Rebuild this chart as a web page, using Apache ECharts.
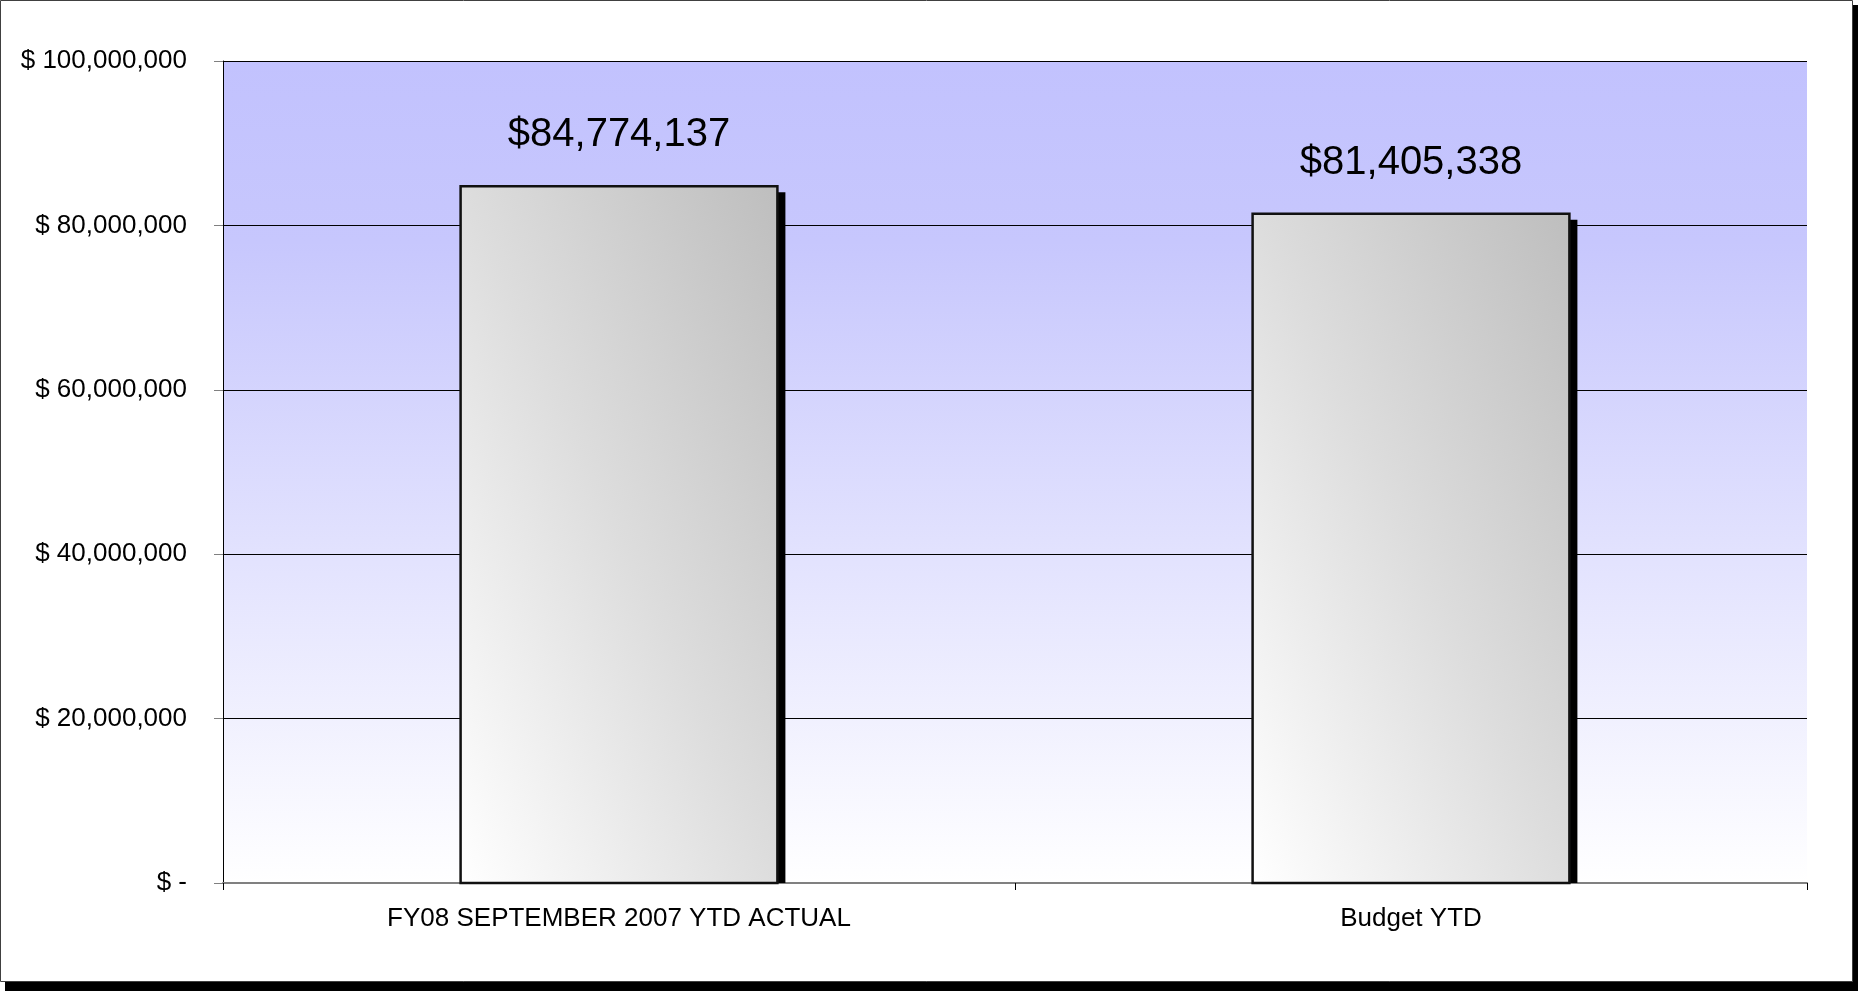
<!DOCTYPE html>
<html>
<head>
<meta charset="utf-8">
<script src="https://cdn.jsdelivr.net/npm/echarts@6/dist/echarts.min.js"></script>
<style>
  html, body { margin: 0; padding: 0; background: #fff; }
  #chart { width: 1858px; height: 991px; }
</style>
</head>
<body>
<div id="chart"></div>
<script>
// chart data
var categories = ['FY08 SEPTEMBER 2007 YTD ACTUAL', 'Budget YTD'];
var amounts = [84774137, 81405338];
var yMin = 0, yMax = 100000000, yStep = 20000000;

function money(v) {
  if (v === 0) return '$ -';
  return '$ ' + v.toLocaleString('en-US');
}

var plotFill = new echarts.graphic.LinearGradient(0, 0, 0, 1, [
  { offset: 0, color: '#c2c2fe' },
  { offset: 0.22, color: '#c7c7fd' },
  { offset: 1, color: '#ffffff' }
]);

// bar with a hard drop shadow, drawn from the axis scales
function renderBar(params, api) {
  var top = api.coord([api.value(0), api.value(1)]);
  var base = api.coord([api.value(0), 0]);
  var w = api.size([1, 0])[0] * 0.4;
  var x = top[0] - w / 2;
  var h = base[1] - top[1];
  // gradient runs bottom-left -> top-right, with even tone along the other diagonal
  var cx = x + w / 2, cy = top[1] + h / 2;
  var len = Math.sqrt(w * w + h * h);
  var dx = h / len, dy = -w / len;
  var half = (w * h) / len;
  var fill = new echarts.graphic.LinearGradient(
    cx - dx * half, cy - dy * half, cx + dx * half, cy + dy * half, [
    { offset: 0, color: '#ffffff' },
    { offset: 0.5, color: '#dddddd' },
    { offset: 1, color: '#bebebe' }
  ], true);
  return {
    type: 'group',
    children: [
      { type: 'rect', shape: { x: x + 8, y: top[1] + 6, width: w, height: h - 6 }, style: { fill: '#000' } },
      { type: 'rect', shape: { x: x, y: top[1], width: w, height: h }, style: { fill: fill, stroke: '#111', lineWidth: 2.5 } },
      { type: 'text', x: top[0], y: top[1] - 31, style: {
          text: '$' + api.value(1).toLocaleString('en-US'),
          fill: '#000', fontSize: 40, fontFamily: '"Liberation Sans", Arial, sans-serif',
          align: 'center', verticalAlign: 'bottom'
      } }
    ]
  };
}

var myChart = echarts.init(document.getElementById('chart'));
myChart.setOption({
  animation: false,
  textStyle: { fontFamily: '"Liberation Sans", Arial, sans-serif' },
  graphic: [
    { type: 'rect', z: -10, shape: { x: 5, y: 5, width: 1853, height: 986 }, style: { fill: '#000' } },
    { type: 'rect', z: -9, shape: { x: 0.5, y: 0.5, width: 1852, height: 981 }, style: { fill: '#fff', stroke: '#404040', lineWidth: 1 } }
  ],
  grid: {
    left: 223, right: 51, top: 61, bottom: 108,
    show: true, borderWidth: 0, backgroundColor: plotFill
  },
  xAxis: {
    type: 'category',
    data: categories,
    axisLine: { lineStyle: { color: '#808080', width: 2 } },
    axisTick: { show: true, length: 7, lineStyle: { color: '#000' } },
    axisLabel: { color: '#000', fontSize: 26, margin: 23 }
  },
  yAxis: {
    type: 'value',
    min: yMin, max: yMax, interval: yStep,
    axisLine: { show: true, lineStyle: { color: '#000', width: 1 } },
    axisTick: { show: true, length: 9, lineStyle: { color: '#808080' } },
    splitLine: { lineStyle: { color: '#000', width: 1 } },
    axisLabel: { color: '#000', fontSize: 26, margin: 36, formatter: money }
  },
  series: [{
    type: 'custom',
    renderItem: renderBar,
    encode: { x: 0, y: 1 },
    data: amounts.map(function (v, i) { return [i, v]; })
  }]
});
</script>
</body>
</html>
